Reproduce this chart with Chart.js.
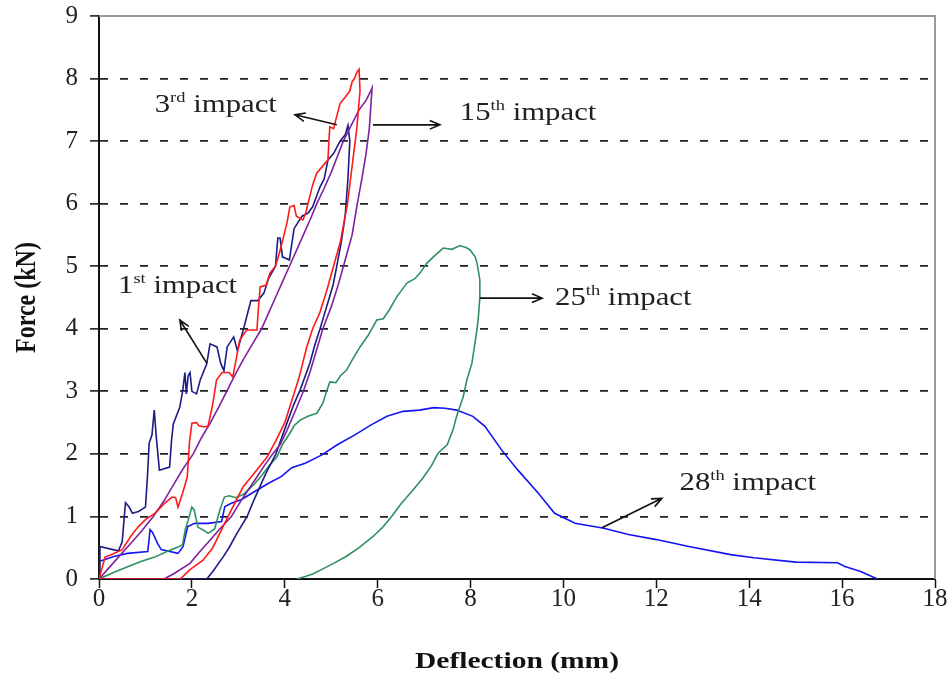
<!DOCTYPE html>
<html>
<head>
<meta charset="utf-8">
<script src="https://cdn.jsdelivr.net/npm/chart.js@4.4.1/dist/chart.umd.min.js"></script>
<style>
  html, body { margin: 0; padding: 0; background: #fff; }
</style>
</head>
<body>
<canvas id="c" width="951" height="678"></canvas>
<script>
// --- data (deflection mm / force kN) ---
const impact1X = [0,0.02,0.3,0.42,0.5,0.57,0.65,0.72,0.85,1.0,1.04,1.08,1.14,1.19,1.23,1.3,1.52,1.56,1.6,1.74,1.8,1.85,1.88,1.92,1.96,2.0,2.1,2.18,2.32,2.39,2.54,2.62,2.69,2.76,2.9,2.98,3.12,3.27,3.42,3.55,3.65,3.8,3.85,3.9,3.95,4.1,4.2,4.37,4.5,4.6,4.76,4.85,4.93,5.05,5.19,5.3,5.36,
  5.4,5.36,5.3,5.22,5.12,5.04,4.9,4.76,4.65,4.54,4.33,4.2,4.05,3.81,3.6,3.3,3.19,2.97,2.8,2.67,2.45,2.32,0];
const impact1Y = [0,0.52,0.47,0.45,0.6,1.22,1.15,1.05,1.08,1.15,1.6,2.17,2.3,2.7,2.3,1.74,1.79,2.2,2.48,2.75,3.0,3.3,2.96,3.25,3.3,3.0,2.96,3.18,3.44,3.76,3.71,3.45,3.33,3.71,3.87,3.65,4.02,4.45,4.45,4.57,4.8,5.0,5.45,5.45,5.15,5.1,5.6,5.8,5.85,5.95,6.27,6.4,6.7,6.8,7.0,7.1,7.25,
  7.0,6.4,5.8,5.4,5.0,4.7,4.35,4.0,3.75,3.45,3.02,2.8,2.5,2.0,1.7,1.2,1.0,0.73,0.5,0.35,0.12,0,0];

const impact3X = [0,0.13,0.3,0.5,0.7,0.84,1.0,1.2,1.4,1.57,1.65,1.7,1.8,1.9,1.95,2.0,2.1,2.15,2.28,2.35,2.45,2.53,2.65,2.8,2.88,2.95,3.03,3.18,3.4,3.44,3.47,3.6,3.68,3.8,3.88,3.95,4.05,4.11,4.2,4.25,4.39,4.45,4.5,4.6,4.69,4.93,4.95,4.97,5.05,5.12,5.19,5.3,5.4,5.45,5.5,5.55,5.6,
  5.62,5.55,5.45,5.35,5.2,5.05,4.9,4.75,4.6,4.47,4.3,4.15,4.0,3.8,3.62,3.35,3.1,2.78,2.45,2.24,1.96,1.75,0];
const impact3Y = [0,0.35,0.4,0.47,0.7,0.83,0.95,1.05,1.2,1.31,1.3,1.15,1.37,1.63,2.2,2.49,2.5,2.45,2.43,2.45,2.8,3.18,3.3,3.3,3.23,3.5,3.82,3.98,3.98,4.4,4.67,4.7,4.89,5.0,5.2,5.4,5.7,5.95,5.97,5.8,5.74,5.85,6.0,6.3,6.49,6.7,7.0,7.23,7.2,7.4,7.6,7.7,7.8,7.95,8.0,8.1,8.15,
  7.8,7.2,6.6,6.0,5.4,5.0,4.6,4.25,4.0,3.7,3.2,2.85,2.5,2.2,1.95,1.7,1.47,1.0,0.5,0.3,0.15,0,0];

const impact15X = [0,0.3,0.6,0.9,1.17,1.4,1.6,1.8,2.03,2.2,2.4,2.58,2.75,2.92,3.1,3.3,3.5,3.65,3.8,3.95,4.1,4.25,4.4,4.55,4.69,4.85,5.0,5.13,5.26,5.43,5.6,5.75,5.85,5.88,
  5.82,5.75,5.66,5.55,5.45,5.3,5.15,5.0,4.82,4.68,4.54,4.4,4.26,4.05,3.9,3.74,3.55,3.4,3.1,2.85,2.6,2.39,2.15,1.96,1.6,1.4];
const impact15Y = [0,0.25,0.5,0.75,1.0,1.25,1.5,1.75,2.0,2.25,2.5,2.75,3.0,3.25,3.5,3.75,4.0,4.25,4.5,4.75,5.0,5.25,5.5,5.75,6.0,6.25,6.5,6.75,7.0,7.25,7.5,7.65,7.8,7.85,
  7.2,6.8,6.4,5.95,5.5,5.1,4.7,4.35,4.0,3.65,3.3,3.0,2.75,2.38,2.15,2.0,1.8,1.63,1.3,1.0,0.8,0.62,0.42,0.25,0.08,0];

const impact25X = [0,0.3,0.63,0.9,1.2,1.5,1.7,1.8,1.86,1.92,2.0,2.05,2.13,2.25,2.35,2.49,2.6,2.7,2.8,2.95,3.1,3.25,3.36,3.5,3.65,3.83,3.95,4.11,4.2,4.33,4.5,4.69,4.82,4.9,4.97,5.1,5.2,5.33,5.45,5.62,5.8,5.98,6.12,6.25,6.41,6.63,6.8,6.91,7.06,7.2,7.41,7.6,7.77,7.9,7.99,8.1,8.14,8.2,8.2,8.17,
  8.14,8.03,7.92,7.84,7.7,7.62,7.5,7.3,7.15,6.95,6.7,6.5,6.3,6.1,5.9,5.6,5.32,5.05,4.79,4.6,4.44,4.26];
const impact25Y = [0,0.1,0.2,0.28,0.35,0.45,0.51,0.55,0.8,0.94,1.15,1.1,0.83,0.78,0.73,0.8,1.1,1.31,1.33,1.3,1.35,1.45,1.53,1.65,1.8,1.95,2.15,2.33,2.45,2.54,2.6,2.65,2.81,3.0,3.15,3.14,3.25,3.34,3.5,3.71,3.9,4.14,4.16,4.3,4.51,4.73,4.8,4.89,5.05,5.15,5.29,5.27,5.33,5.3,5.26,5.15,5.05,4.78,4.51,4.2,
  4.0,3.45,3.18,2.91,2.6,2.38,2.15,2.01,1.8,1.59,1.37,1.2,1.0,0.82,0.68,0.5,0.36,0.25,0.15,0.08,0.04,0];

const impact28X = [0,0,0.32,0.61,1.05,1.1,1.15,1.26,1.34,1.7,1.81,1.91,2.06,2.35,2.64,2.71,2.85,3.07,3.29,3.65,3.93,4.15,4.44,4.79,5.14,5.5,5.85,6.2,6.55,6.9,7.21,7.45,7.7,8.05,8.31,8.67,9.02,9.46,9.81,10.25,10.87,11.4,12.0,12.7,13.6,14.1,15.0,15.9,16.06,16.4,16.76];
const impact28Y = [0,0.28,0.36,0.41,0.44,0.79,0.75,0.57,0.47,0.41,0.52,0.84,0.89,0.89,0.92,1.16,1.21,1.27,1.37,1.53,1.64,1.78,1.85,1.98,2.15,2.3,2.46,2.6,2.68,2.7,2.74,2.73,2.7,2.6,2.44,2.06,1.74,1.37,1.05,0.89,0.81,0.71,0.63,0.52,0.39,0.34,0.27,0.26,0.2,0.12,0];

// --- annotation labels and their arrows (data coordinates) ---
const noteNum = ['1', '3', '15', '25', '28'];
const noteSup = ['st', 'rd', 'th', 'th', 'th'];
const noteX = [0.41, 1.2, 7.77, 9.82, 12.5];
const noteY = [4.57, 7.47, 7.34, 4.38, 1.42];
const arrowFromX = [2.32, 5.12, 5.9, 8.2, 10.83];
const arrowFromY = [3.45, 7.26, 7.26, 4.49, 0.82];
const arrowToX = [1.74, 4.22, 7.34, 9.54, 12.12];
const arrowToY = [4.14, 7.42, 7.26, 4.49, 1.29];

const SERIF = '"Liberation Serif", "Times New Roman", serif';
const STRETCH = 1.23;   // the source picture is a bit wider than tall

const pts = (xs, ys) => xs.map((x, i) => ({ x: x, y: ys[i] }));

function line(label, xs, ys, color) {
  return {
    label: label,
    data: pts(xs, ys),
    showLine: true,
    borderColor: color,
    backgroundColor: color,
    borderWidth: 1.6,
    pointRadius: 0,
    pointHoverRadius: 0,
    tension: 0,
    fill: false
  };
}

// draws frame, titles, "nth impact" notes with arrows
const extras = {
  id: 'extras',
  afterDraw(chart) {
    const ctx = chart.ctx;
    const a = chart.chartArea;
    const sx = chart.scales.x, sy = chart.scales.y;

    // grey frame on top and right
    ctx.save();
    ctx.strokeStyle = '#9a9a9a';
    ctx.lineWidth = 2;
    ctx.beginPath();
    ctx.moveTo(a.left, a.top);
    ctx.lineTo(a.right, a.top);
    ctx.lineTo(a.right, a.bottom);
    ctx.stroke();
    ctx.restore();

    // axis titles
    ctx.save();
    ctx.fillStyle = '#111';
    ctx.font = 'bold 24px ' + SERIF;
    ctx.textAlign = 'center';
    ctx.textBaseline = 'middle';
    ctx.save();
    ctx.translate((a.left + a.right) / 2, 662);
    ctx.scale(STRETCH, 1);
    ctx.fillText('Deflection (mm)', 0, 0);
    ctx.restore();
    ctx.save();
    ctx.translate(27, (a.top + a.bottom) / 2);
    ctx.scale(STRETCH, 1);
    ctx.rotate(-Math.PI / 2);
    ctx.fillText('Force (kN)', 0, 0);
    ctx.restore();
    ctx.restore();

    // arrows
    ctx.save();
    ctx.strokeStyle = '#111';
    ctx.lineWidth = 1.6;
    for (let i = 0; i < arrowFromX.length; i++) {
      const x1 = sx.getPixelForValue(arrowFromX[i]), y1 = sy.getPixelForValue(arrowFromY[i]);
      const x2 = sx.getPixelForValue(arrowToX[i]), y2 = sy.getPixelForValue(arrowToY[i]);
      const ang = Math.atan2(y2 - y1, x2 - x1);
      ctx.beginPath();
      ctx.moveTo(x1, y1);
      ctx.lineTo(x2, y2);
      ctx.moveTo(x2 - 11 * Math.cos(ang - 0.4), y2 - 11 * Math.sin(ang - 0.4));
      ctx.lineTo(x2, y2);
      ctx.lineTo(x2 - 11 * Math.cos(ang + 0.4), y2 - 11 * Math.sin(ang + 0.4));
      ctx.stroke();
    }
    ctx.restore();

    // labels
    ctx.save();
    ctx.fillStyle = '#222';
    ctx.textBaseline = 'alphabetic';
    ctx.textAlign = 'left';
    for (let i = 0; i < noteNum.length; i++) {
      ctx.save();
      ctx.translate(sx.getPixelForValue(noteX[i]), sy.getPixelForValue(noteY[i]));
      ctx.scale(STRETCH, 1);
      ctx.font = '25px ' + SERIF;
      ctx.fillText(noteNum[i], 0, 0);
      let w = ctx.measureText(noteNum[i]).width;
      ctx.font = '15px ' + SERIF;
      ctx.fillText(noteSup[i], w, -10);
      w += ctx.measureText(noteSup[i]).width;
      ctx.font = '25px ' + SERIF;
      ctx.fillText(' impact', w, 0);
      ctx.restore();
    }
    ctx.restore();
  }
};

// keep the plot box where the picture has it: no extra room for tick label overflow
function noOverflow(s) {
  s.paddingTop = 0;
  s.paddingBottom = 0;
  s.paddingLeft = 0;
  s.paddingRight = 0;
}

const chart = new Chart(document.getElementById('c'), {
  type: 'scatter',
  data: {
    datasets: [
      line('3rd impact', impact3X, impact3Y, '#ff1a1a'),
      line('15th impact', impact15X, impact15Y, '#7e22a0'),
      line('1st impact', impact1X, impact1Y, '#1c1c86'),
      line('25th impact', impact25X, impact25Y, '#2e9160'),
      line('28th impact', impact28X, impact28Y, '#1414f0')
    ]
  },
  options: {
    responsive: false,
    animation: false,
    layout: { padding: { left: 0, right: 16, top: 16, bottom: 0 } },
    plugins: { legend: { display: false }, tooltip: { enabled: false } },
    scales: {
      x: {
        type: 'linear',
        min: 0, max: 18,
        afterFit: s => { s.height = 99; noOverflow(s); },
        ticks: { stepSize: 2, color: '#222', padding: -4, font: { family: SERIF, size: 25 } },
        grid: { color: 'rgba(0,0,0,0)', tickColor: '#111', tickLength: 9, tickWidth: 1.5 },
        border: { color: '#111', width: 2 }
      },
      y: {
        type: 'linear',
        min: 0, max: 9,
        afterFit: s => { s.width = 99; noOverflow(s); },
        ticks: { stepSize: 1, color: '#222', padding: 12, font: { family: SERIF, size: 25 } },
        grid: {
          color: c => (c.tick && c.tick.value > 0 && c.tick.value < 9) ? '#222' : 'rgba(0,0,0,0)',
          lineWidth: 1.8,
          tickColor: '#111', tickLength: 9, tickWidth: 1.5
        },
        border: { color: '#111', width: 2, dash: [8, 12] }
      }
    }
  },
  plugins: [extras]
});
</script>
</body>
</html>
